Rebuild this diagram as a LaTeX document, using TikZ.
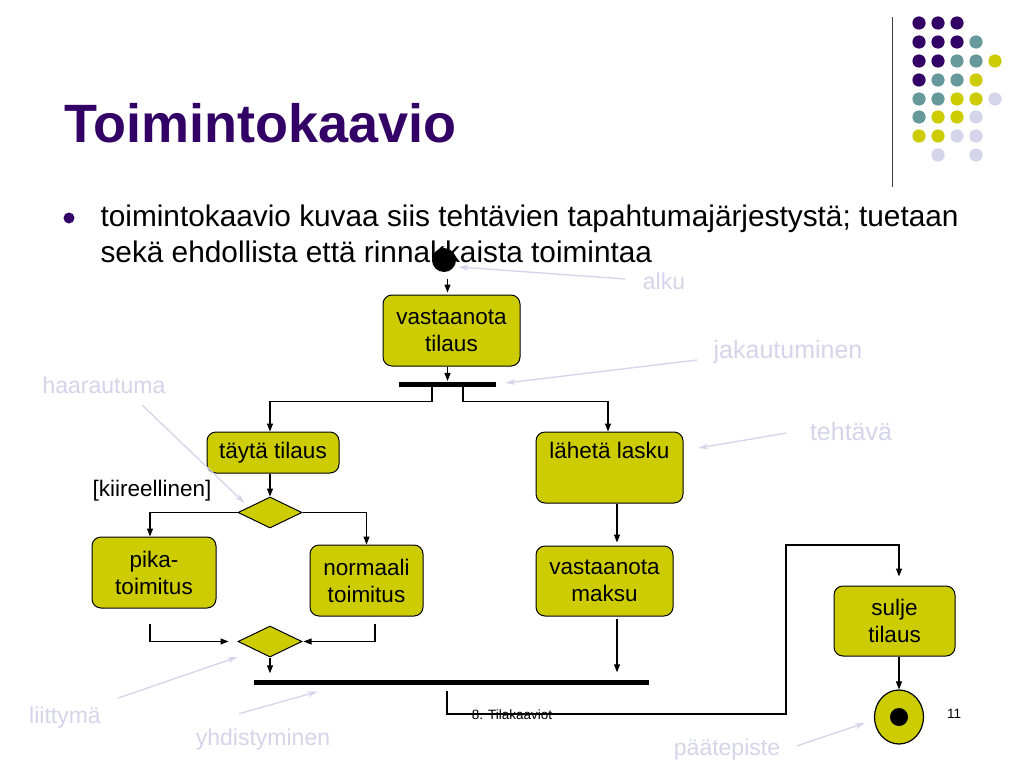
\documentclass[tikz,border=0pt]{standalone}
\usepackage{fontspec}
\setmainfont{Liberation Sans}
\usetikzlibrary{arrows.meta,shapes.geometric,calc}
\definecolor{slidepurple}{RGB}{51,0,102}
\definecolor{slideteal}{RGB}{102,153,153}
\definecolor{slideyellow}{RGB}{204,204,0}
\definecolor{slidelilac}{RGB}{212,212,234}

\begin{document}
\begin{tikzpicture}[x=1pt,y=-1pt,>={Triangle[length=8pt,width=6pt]},line width=1.1pt,
    task node/.style={rectangle,rounded corners=9pt,draw,line width=1pt,fill=slideyellow,align=center,inner sep=0pt,font=\fontsize{22.5}{27}\selectfont},
    branch node/.style={diamond,draw,line width=1pt,fill=slideyellow,inner sep=0pt,minimum width=64,minimum height=31},
    bar node/.style={rectangle,fill=black,inner sep=0pt,minimum height=5},
    note node/.style={text=slidelilac,inner sep=0pt,font=\fontsize{23}{27}\selectfont},
    big note/.style={note node,font=\fontsize{25}{29}\selectfont},
    note arrow/.style={draw=slidelilac,line width=1.3pt,-{Stealth[length=10pt,width=6pt]}}]

                \fill[white] (0,0) rectangle (1024,768);
                \useasboundingbox (0,0) rectangle (1024,768);

                % corner decoration
                \draw[line width=1pt, black!75] (892,17) -- (892,187);
                \fill[slidepurple] (919,23) circle (6.6) (938,23) circle (6.6) (957,23) circle (6.6);
                \fill[slidepurple] (919,42) circle (6.6) (938,42) circle (6.6) (957,42) circle (6.6);
                \fill[slideteal] (976,42) circle (6.6);
                \fill[slidepurple] (919,61) circle (6.6) (938,61) circle (6.6);
                \fill[slideteal] (957,61) circle (6.6) (976,61) circle (6.6);
                \fill[slideyellow] (995,61) circle (6.6);
                \fill[slidepurple] (919,80) circle (6.6);
                \fill[slideteal] (938,80) circle (6.6) (957,80) circle (6.6);
                \fill[slideyellow] (976,80) circle (6.6);
                \fill[slideteal] (919,99) circle (6.6) (938,99) circle (6.6);
                \fill[slideyellow] (957,99) circle (6.6) (976,99) circle (6.6);
                \fill[slidelilac] (995,99) circle (6.6);
                \fill[slideteal] (919,117) circle (6.6);
                \fill[slideyellow] (938,117) circle (6.6) (957,117) circle (6.6);
                \fill[slidelilac] (976,117) circle (6.6);
                \fill[slideyellow] (919,136) circle (6.6) (938,136) circle (6.6);
                \fill[slidelilac] (957,136) circle (6.6) (976,136) circle (6.6);
                \fill[slidelilac] (938,155) circle (6.6) (976,155) circle (6.6);

                % title and bullet
                \node[anchor=base west, inner sep=0pt, text=slidepurple, font=\fontsize{54}{60}\selectfont\bfseries] (title) at (64,142) {Toimintokaavio};
                \node[circle, fill=slidepurple, minimum size=11, inner sep=0pt] (bullet) at (69,218) {};
                \node[anchor=base west, inner sep=0pt, font=\fontsize{29.8}{36}\selectfont] (line1) at (100,226.7) {toimintokaavio kuvaa siis tehtävien tapahtumajärjestystä; tuetaan};
                \node[anchor=base west, inner sep=0pt, font=\fontsize{29.8}{36}\selectfont] (line2) at ($(line1.base west)+(0,36)$) {sekä ehdollista että rinnakkaista toimintaa};

                % activity diagram
                \node[circle, fill=black, minimum size=24, inner sep=0pt] (start) at (444,260) {};
                \node[task node, minimum width=137, minimum height=71] (tilaus) at (451.5,330.5) {vastaanota\\tilaus};
                \node[bar node, minimum width=97] (fork) at (447.5,384) {};
                \node[task node, minimum width=132, minimum height=41] (tayta) at (273,452.5) {täytä tilaus};
                \node[task node, minimum width=147, minimum height=71] (laheta) at (609.5,467.5) {lähetä lasku\\\strut};
                \node[branch node] (split) at (270,512.5) {};
                \node[font=\fontsize{22.5}{27}\selectfont, inner sep=0pt] (urgent) at (152,491) {[kiireellinen]};
                \node[task node, minimum width=124, minimum height=71] (pika) at (154,572.5) {pika-\\toimitus};
                \node[task node, minimum width=113, minimum height=71] (normaali) at (366.5,580.5) {normaali\\toimitus};
                \node[task node, minimum width=137, minimum height=70] (maksu) at (604.5,581) {vastaanota\\maksu};
                \node[branch node] (merge) at (270,641.5) {};
                \node[bar node, minimum width=395] (join) at (451.5,682.3) {};
                \node[task node, minimum width=121, minimum height=70] (sulje) at (894.5,621) {sulje\\tilaus};
                \node[ellipse, draw, line width=1.2pt, fill=slideyellow, minimum width=49, minimum height=54, inner sep=0pt] (end) at (899,717) {};
                \node[circle, fill=black, minimum size=18, inner sep=0pt] (endDot) at (end) {};

                \coordinate (a1) at ($(start.south)+(3.5,0)$);
                \draw[->, shorten <=6, shorten >=2] (a1) -- (a1 |- tilaus.north);
                \draw[->] (a1 |- tilaus.south) -- (a1 |- fork.north);
                \draw[->] ($(fork.south)+(-15.5,0)$) -- ++(0,14) -| (split |- tayta.north);
                \draw[->] ($(fork.south)+(15.5,0)$) -- ++(0,14) -| ($(laheta.north)+(-1.5,0)$);
                \draw[->] (split |- tayta.south) -- (split.north);
                \draw[->] (split.west) -| ($(pika.north)+(-4,0)$);
                \draw[->] (split.east) -| (normaali.north);
                \draw[->, shorten <=15, shorten >=9] ($(pika.south)+(-4,0)$) |- (merge.west);
                \draw[->, shorten <=7, shorten >=1] ($(normaali.south)+(8.5,0)$) |- (merge.east);
                \draw[->, shorten >=6] (merge.south) -- (merge |- join.north);
                \coordinate (lm) at ($(laheta.south)+(7.5,0)$);
                \draw[->, shorten >=3] (lm) -- (lm |- maksu.north);
                \draw[->, shorten <=2, shorten >=7] (lm |- maksu.south) -- (lm |- join.north);
                \coordinate (jl) at ($(join.south)+(-4.5,0)$);
                \coordinate (turnLow) at (786,714);
                \coordinate (turnHigh) at (786,545);
                \draw[->, shorten <=6, shorten >=9] (jl) |- (turnLow) -- (turnHigh) -| (end |- sulje.north);
                \draw[->] (end |- sulje.south) -- (end);

                % footer
                \node[inner sep=0pt, font=\fontsize{13.5}{16}\selectfont] (footer) at (512,714.5) {8. Tilakaaviot};
                \node[inner sep=0pt, font=\fontsize{13.5}{16}\selectfont] (pagenum) at (954,714) {11};

                % notes
                \node[note node] (alkuNote) at (664,281) {alku};
                \node[big note] (jakNote) at (788,352) {jakautuminen};
                \node[big note] (tehNote) at (851,432) {tehtävä};
                \node[note node] (haaNote) at (104,385) {haarautuma};
                \node[note node] (liiNote) at (65,718) {liittymä};
                \node[note node] (yhdNote) at (263,740) {yhdistyminen};
                \node[note node] (paaNote) at (727,750) {päätepiste};

                \draw[note arrow] ($(alkuNote.west)+(-17,-2)$) -- ($(start.east)+(2,7)$);
                \draw[note arrow] ($(jakNote.west)+(-16,8)$) -- ($(fork.east)+(9,-1)$);
                \draw[note arrow] ($(tehNote.west)+(-23,1)$) -- ($(laheta.east)+(15,-19.5)$);
                \draw[note arrow] ($(haaNote.south)+(38,11)$) -- ($(split.west)+(7,-9.5)$);
                \draw[note arrow] ($(liiNote.east)+(17,-20)$) -- ($(merge.west)+(0,15.5)$);
                \draw[note arrow] ($(yhdNote.north)+(-24,-15)$) -- ($(join.south west)+(64,6.3)$);
                \draw[note arrow] ($(paaNote.east)+(16,-4)$) -- ($(end.west)+(-9,6)$);

                ;
\end{tikzpicture}
\end{document}
